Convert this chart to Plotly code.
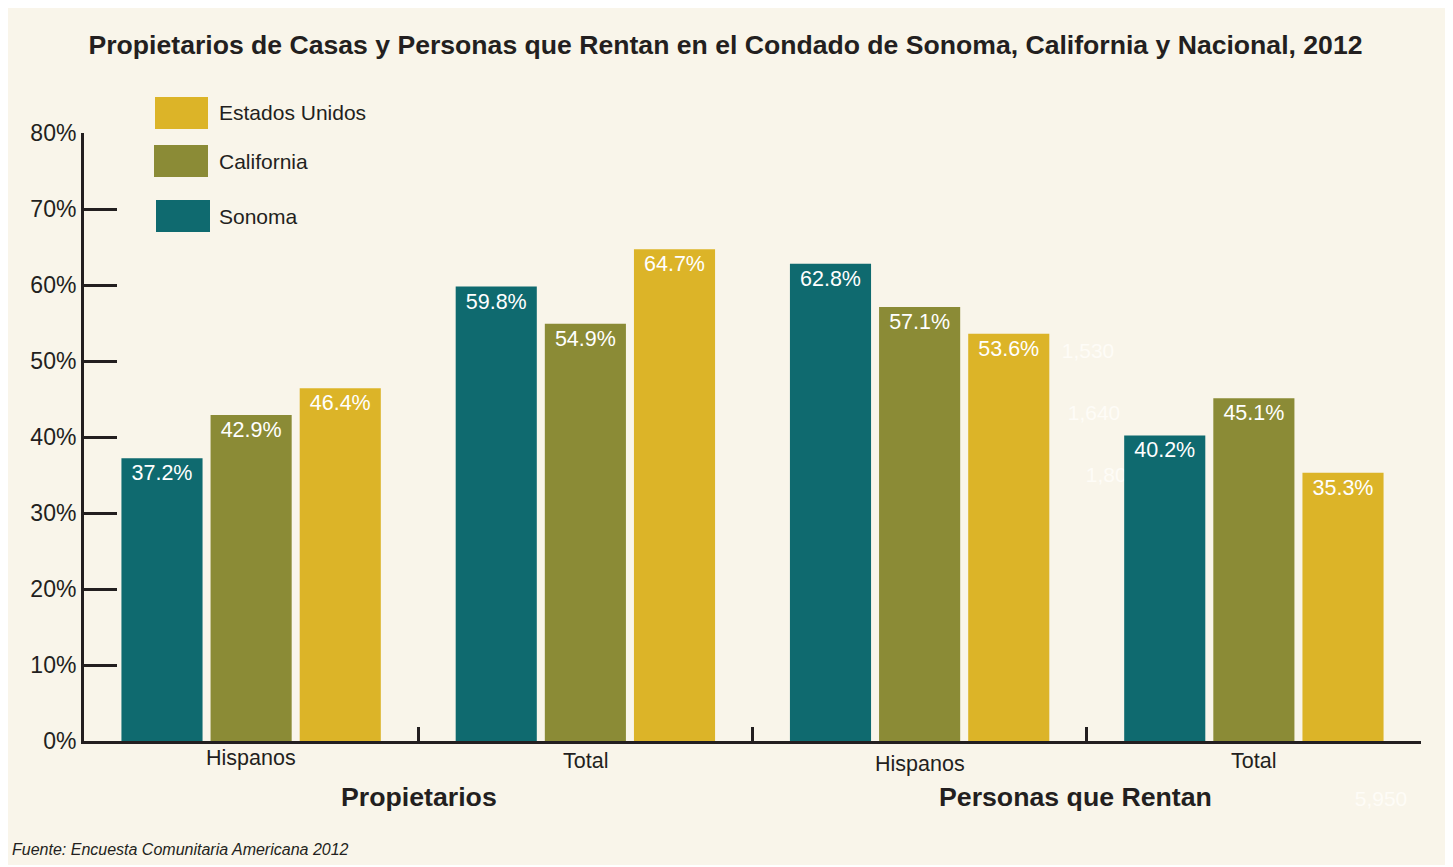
import plotly.graph_objects as go

# ---- data ----
categories = ["Hispanos", "Total", "Hispanos", "Total"]
groups = ["Propietarios", "Personas que Rentan"]
series_names = ["Sonoma", "California", "Estados Unidos"]
sonoma = [37.2, 59.8, 62.8, 40.2]
california = [42.9, 54.9, 57.1, 45.1]
estados_unidos = [46.4, 64.7, 53.6, 35.3]
y_ticks = [0, 10, 20, 30, 40, 50, 60, 70, 80]
ghost_labels = ["1,530", "1,640", "1,800", "5,950"]

# ---- style ----
OFF = 8  # page body margin offset
W, H = 1453 - OFF, 865 - OFF
L, R, T, B = 84 - OFF, 1421 - OFF, 133 - OFF, 741 - OFF
CREAM = "#f9f5ea"
DARK = "#231f20"
colors = {"Sonoma": "#0f6a6f", "California": "#8b8b36", "Estados Unidos": "#dcb428"}
FONT = "Liberation Sans, Arial, Helvetica, sans-serif"


def px(x):
    # x in page pixels -> paper
    return (x - OFF - L) / (R - L)


def py(y):
    return (B - (y - OFF)) / (B - T)


xpos = [i + 0.5 for i in range(len(categories))]

fig = go.Figure()
for name, vals in zip(series_names, [sonoma, california, estados_unidos]):
    fig.add_trace(go.Bar(
        x=xpos, y=vals, name=name,
        marker=dict(color=colors[name], line=dict(width=0)),
        text=[f"{v:.1f}%" for v in vals],
        textposition="inside", insidetextanchor="end", textangle=0,
        textfont=dict(color="white", size=21.5, family=FONT),
        showlegend=False,
    ))

shapes = []
# ghost labels (faint, behind bars)
ghost_pos = [(1088, 348), (1094, 410), (1112, 472), (1381, 796)]
for txt, (gx, gy) in zip(ghost_labels, ghost_pos):
    shapes.append(dict(type="rect", xref="paper", yref="paper", layer="below",
                       x0=px(gx - 40), x1=px(gx + 40), y0=py(gy + 12), y1=py(gy - 12),
                       fillcolor="rgba(0,0,0,0)", line=dict(width=0),
                       label=dict(text=txt, textposition="middle center",
                                  font=dict(color="#fefcf7", size=21, family=FONT))))
# legend swatches
legend_items = [("Estados Unidos", 155, 208, 97, 129),
                ("California", 154, 208, 145, 177),
                ("Sonoma", 156, 210, 200, 232)]
annotations = []
for name, x0, x1, y0, y1 in legend_items:
    shapes.append(dict(type="rect", xref="paper", yref="paper",
                       x0=px(x0), x1=px(x1), y0=py(y1), y1=py(y0),
                       fillcolor=colors[name], line=dict(width=0)))
    annotations.append(dict(xref="paper", yref="paper", x=px(217), y=py((y0 + y1) / 2),
                            text=name, showarrow=False, xanchor="left", yanchor="middle",
                            font=dict(size=21, color=DARK, family=FONT)))

# category labels
cat_y = [758, 761, 764, 761]
for xc, lab, yy in zip(xpos, categories, cat_y):
    annotations.append(dict(xref="x", yref="paper", x=xc, y=py(yy), text=lab,
                            showarrow=False, xanchor="center", yanchor="middle",
                            font=dict(size=21.5, color=DARK, family=FONT)))
# group labels
for lab, gx in zip(groups, [419, 1075]):
    annotations.append(dict(xref="paper", yref="paper", x=px(gx), y=py(797),
                            text=f"<b>{lab}</b>", showarrow=False,
                            xanchor="center", yanchor="middle",
                            font=dict(size=26.7, color=DARK, family=FONT)))
# source
annotations.append(dict(xref="paper", yref="paper", x=px(10), y=py(849),
                        text="<i>Fuente: Encuesta Comunitaria Americana 2012</i>",
                        showarrow=False, xanchor="left", yanchor="middle",
                        font=dict(size=16, color=DARK, family=FONT)))

fig.update_layout(
    width=W, height=H,
    margin=dict(l=L, r=W - R, t=T, b=H - B, pad=0),
    paper_bgcolor=CREAM, plot_bgcolor="rgba(0,0,0,0)",
    barmode="group", bargap=0.2, bargroupgap=0.09,
    title=dict(text="<b>Propietarios de Casas y Personas que Rentan en el Condado de Sonoma, California y Nacional, 2012</b>",
               x=(725.5 - OFF) / W, xref="container", xanchor="center",
               y=1 - (45 - OFF) / H, yref="container", yanchor="middle",
               font=dict(size=26.6, color=DARK, family=FONT)),
    shapes=shapes, annotations=annotations,
    showlegend=False,
    font=dict(family=FONT, color=DARK),
)
fig.update_xaxes(range=[0, 4], showgrid=False, zeroline=False,
                 showline=True, linecolor=DARK, linewidth=3,
                 tickmode="array", tickvals=[1, 2, 3, 4], showticklabels=False,
                 ticks="inside", ticklen=14, tickwidth=3, tickcolor=DARK)
fig.update_yaxes(range=[0, 80], showgrid=False, zeroline=False,
                 showline=True, linecolor=DARK, linewidth=3,
                 tickmode="array", tickvals=y_ticks, ticktext=[f"{v}%" for v in y_ticks],
                 ticks="inside", ticklen=33, tickwidth=3, tickcolor=DARK,
                 ticklabelstandoff=0,
                 tickfont=dict(size=23, color=DARK, family=FONT))

fig.write_html("out.html")
